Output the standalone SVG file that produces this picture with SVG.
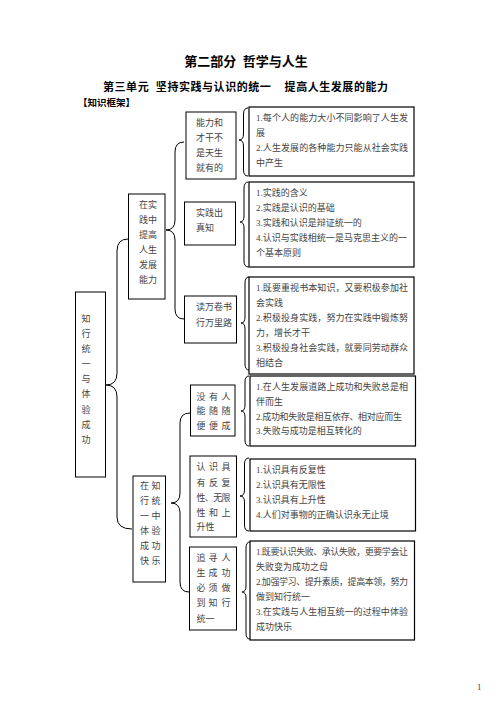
<svg xmlns="http://www.w3.org/2000/svg" width="496" height="702" viewBox="0 0 496 702">
<style>
.box{fill:#fff;stroke:#000;stroke-width:1}
.rb{fill:#fff;stroke:#000;stroke-width:1.2}
.t{font-family:"Liberation Serif","Noto Sans CJK SC",serif;font-size:9px;fill:#444}
.m{text-anchor:middle}
.h{font-family:"Liberation Serif","Noto Sans CJK SC",serif;font-weight:bold;fill:#000}
.br{fill:none;stroke:#000;stroke-width:1}
</style>
<rect width="496" height="702" fill="#fff"/>
<g id="titles">
<text class="h" x="246" y="66" font-size="13" text-anchor="middle" xml:space="preserve">第二部分  哲学与人生</text>
<text class="h" x="103" y="90.5" font-size="11" textLength="285" lengthAdjust="spacing" xml:space="preserve">第三单元  坚持实践与认识的统一    提高人生发展的能力</text>
<text class="h" x="78" y="106" font-size="9.5">【知识框架】</text>
</g>
<g id="connectors">
<path class="br" d="M248 108 Q243.5 108 243.5 114 L243.5 134 Q243.5 140 239 140 Q243.5 140 243.5 146 L243.5 170 Q243.5 176 248 176"/>
<path class="br" d="M248.5 182 Q244 182 244 188 L244 216 Q244 222 240 222 Q244 222 244 228 L244 261 Q244 267 248.5 267"/>
<path class="br" d="M249 277 Q245 277 245 283 L245 317 Q245 323 241 323 Q245 323 245 329 L245 364 Q245 370 249 370"/>
<path class="br" d="M249 376 Q245 376 245 382 L245 405 Q245 411 241 411 Q245 411 245 417 L245 440 Q245 446 249 446"/>
<path class="br" d="M249 458 Q244.5 458 244.5 464 L244.5 490 Q244.5 496 240 496 Q244.5 496 244.5 502 L244.5 525 Q244.5 531 249 531"/>
<path class="br" d="M250 542 Q246 542 246 548 L246 586 Q246 592 242 592 Q246 592 246 598 L246 633 Q246 639 250 639"/>
<path class="br" d="M184 142 Q175 142 175 152 L175 220 Q175 230 166 230 Q175 230 175 240 L175 309 Q175 319 184 319"/>
<path class="br" d="M128 239 Q117 239 117 251 L117 373 Q117 385 106 385 Q117 385 117 397 L117 517 Q117 529 132 529"/>
<path class="br" d="M190 413 Q180 413 180 423 L180 493 Q180 503 171 503 Q180 503 180 513 L180 582 Q180 592 189 592"/>
</g>
<g id="n_root">
<rect class="box" x="75.5" y="292" width="30" height="185"/>
<text class="t m" x="86"><tspan x="86" y="322">知</tspan><tspan x="86" y="337">行</tspan><tspan x="86" y="352">统</tspan><tspan x="86" y="367">一</tspan><tspan x="86" y="382">与</tspan><tspan x="86" y="397">体</tspan><tspan x="86" y="413">验</tspan><tspan x="86" y="428">成</tspan><tspan x="86" y="443">功</tspan></text>
</g>
<g id="n_practice">
<rect class="box" x="128.5" y="194" width="36.5" height="105"/>
<text class="t"><tspan x="139" y="208">在实</tspan><tspan x="139" y="223">践中</tspan><tspan x="139" y="238">提高</tspan><tspan x="139" y="253">人生</tspan><tspan x="139" y="268">发展</tspan><tspan x="139" y="283">能力</tspan></text>
</g>
<g id="n_unity">
<rect class="box" x="133" y="476" width="32.5" height="106"/>
<text class="t m"><tspan x="144.5" y="488.5">在</tspan><tspan x="156" y="488.5">知</tspan><tspan x="144.5" y="503.5">行</tspan><tspan x="156" y="503.5">统</tspan><tspan x="144.5" y="518.5">一</tspan><tspan x="156" y="518.5">中</tspan><tspan x="144.5" y="533.5">体</tspan><tspan x="156" y="533.5">验</tspan><tspan x="144.5" y="548.5">成</tspan><tspan x="156" y="548.5">功</tspan><tspan x="144.5" y="563.5">快</tspan><tspan x="156" y="563.5">乐</tspan></text>
</g>
<g id="n_a">
<rect class="box" x="186" y="112" width="50" height="67"/>
<text class="t"><tspan x="196" y="126">能力和</tspan><tspan x="196" y="141">才干不</tspan><tspan x="196" y="156">是天生</tspan><tspan x="196" y="171">就有的</tspan></text>
</g>
<g id="n_a_list">
<rect class="rb" x="249" y="107" width="165" height="69"/>
<text class="t"><tspan x="256" y="121" textLength="152" lengthAdjust="spacing">1.每个人的能力大小不同影响了人生发</tspan><tspan x="256" y="136">展</tspan><tspan x="256" y="151" textLength="152" lengthAdjust="spacing">2.人生发展的各种能力只能从社会实践</tspan><tspan x="256" y="166">中产生</tspan></text>
</g>
<g id="n_b">
<rect class="box" x="184.5" y="202" width="51" height="43"/>
<text class="t"><tspan x="196" y="216">实践出</tspan><tspan x="196" y="231">真知</tspan></text>
</g>
<g id="n_b_list">
<rect class="rb" x="249" y="182" width="165" height="85"/>
<text class="t"><tspan x="256" y="196">1.实践的含义</tspan><tspan x="256" y="211">2.实践是认识的基础</tspan><tspan x="256" y="226">3.实践和认识是辩证统一的</tspan><tspan x="256" y="241" textLength="151" lengthAdjust="spacing">4.认识与实践相统一是马克思主义的一</tspan><tspan x="256" y="256">个基本原则</tspan></text>
</g>
<g id="n_c">
<rect class="box" x="184.5" y="296" width="52" height="47"/>
<text class="t"><tspan x="196" y="310">读万卷书</tspan><tspan x="196" y="326">行万里路</tspan></text>
</g>
<g id="n_c_list">
<rect class="rb" x="249" y="277" width="165" height="97"/>
<text class="t"><tspan x="256" y="291" textLength="152" lengthAdjust="spacing">1.既要重视书本知识，又要积极参加社</tspan><tspan x="256" y="306">会实践</tspan><tspan x="256" y="321" textLength="152" lengthAdjust="spacing">2.积极投身实践，努力在实践中锻炼努</tspan><tspan x="256" y="336">力，增长才干</tspan><tspan x="256" y="351" textLength="152" lengthAdjust="spacing">3.积极投身社会实践，就要同劳动群众</tspan><tspan x="256" y="366">相结合</tspan></text>
</g>
<g id="n_d">
<rect class="box" x="190.5" y="385" width="44.5" height="51"/>
<text class="t m"><tspan x="201" y="400">没</tspan><tspan x="213.5" y="400">有</tspan><tspan x="226" y="400">人</tspan><tspan x="201" y="414">能</tspan><tspan x="213.5" y="414">随</tspan><tspan x="226" y="414">随</tspan><tspan x="201" y="429">便</tspan><tspan x="213.5" y="429">便</tspan><tspan x="226" y="429">成</tspan></text>
</g>
<g id="n_d_list">
<rect class="rb" x="250" y="376" width="165.5" height="70"/>
<text class="t"><tspan x="256" y="389.5" textLength="152" lengthAdjust="spacing">1.在人生发展道路上成功和失败总是相</tspan><tspan x="256" y="404.5">伴而生</tspan><tspan x="256" y="419.5" textLength="146" lengthAdjust="spacing">2.成功和失败是相互依存、相对应而生</tspan><tspan x="256" y="434">3.失败与成功是相互转化的</tspan></text>
</g>
<g id="n_e">
<rect class="box" x="190" y="456" width="46.5" height="81"/>
<text class="t"><tspan class="m" x="201" y="470">认</tspan><tspan class="m" x="213.5" y="470">识</tspan><tspan class="m" x="226" y="470">具</tspan><tspan class="m" x="201" y="486">有</tspan><tspan class="m" x="213.5" y="486">反</tspan><tspan class="m" x="226" y="486">复</tspan><tspan x="196.5" y="501" textLength="34" lengthAdjust="spacing">性、无限</tspan><tspan class="m" x="201" y="516">性</tspan><tspan class="m" x="213.5" y="516">和</tspan><tspan class="m" x="226" y="516">上</tspan><tspan x="196.5" y="530">升性</tspan></text>
</g>
<g id="n_e_list">
<rect class="rb" x="250" y="459" width="165.5" height="72"/>
<text class="t"><tspan x="256" y="473">1.认识具有反复性</tspan><tspan x="256" y="488">2.认识具有无限性</tspan><tspan x="256" y="503">3.认识具有上升性</tspan><tspan x="256" y="518">4.人们对事物的正确认识永无止境</tspan></text>
</g>
<g id="n_f">
<rect class="box" x="189.5" y="547" width="47" height="83"/>
<text class="t"><tspan class="m" x="201" y="561">追</tspan><tspan class="m" x="213" y="561">寻</tspan><tspan class="m" x="226" y="561">人</tspan><tspan class="m" x="201" y="576">生</tspan><tspan class="m" x="213" y="576">成</tspan><tspan class="m" x="226" y="576">功</tspan><tspan class="m" x="201" y="591">必</tspan><tspan class="m" x="213" y="591">须</tspan><tspan class="m" x="226" y="591">做</tspan><tspan class="m" x="201" y="606">到</tspan><tspan class="m" x="213" y="606">知</tspan><tspan class="m" x="226" y="606">行</tspan><tspan x="196.5" y="622">统一</tspan></text>
</g>
<g id="n_f_list">
<rect class="rb" x="250" y="541" width="164.5" height="99"/>
<text class="t"><tspan x="256" y="555" textLength="152" lengthAdjust="spacing">1.既要认识失败、承认失败，更要学会让</tspan><tspan x="256" y="570">失败变为成功之母</tspan><tspan x="256" y="585" textLength="152" lengthAdjust="spacing">2.加强学习、提升素质，提高本领，努力</tspan><tspan x="256" y="600">做到知行统一</tspan><tspan x="256" y="615" textLength="152" lengthAdjust="spacing">3.在实践与人生相互统一的过程中体验</tspan><tspan x="256" y="630">成功快乐</tspan></text>
</g>
<g id="page">
<text class="t" x="477" y="690" font-size="7" fill="#555">1</text>
</g>
</svg>
